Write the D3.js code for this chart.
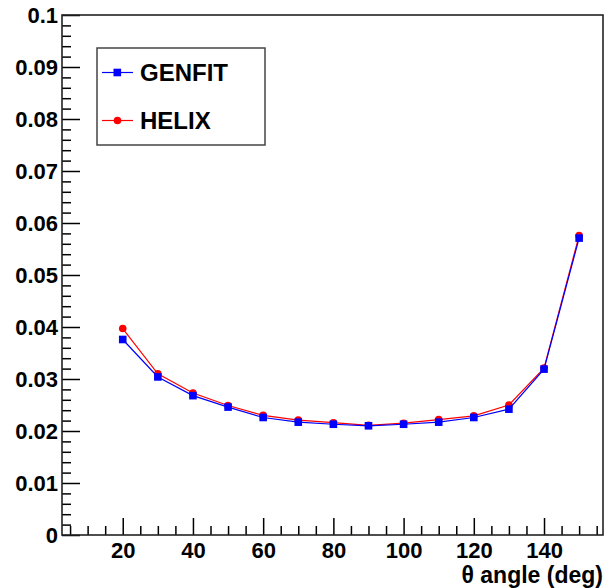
<!DOCTYPE html>
<html>
<head>
<meta charset="utf-8">
<script src="https://cdn.jsdelivr.net/npm/d3@7"></script>
<style>
  body { margin: 0; background: #fff; }
  text { font-family: "Liberation Sans", Arial, sans-serif; font-weight: bold; }
</style>
</head>
<body>
<div id="chart"></div>
<script>
// data
var angles = [20, 30, 40, 50, 60, 70, 80, 90, 100, 110, 120, 130, 140, 150];
var genfit = [0.0376, 0.0304, 0.0268, 0.0246, 0.0226, 0.0217, 0.0213, 0.0210, 0.0213, 0.0217, 0.0226, 0.0242, 0.0319, 0.0571];
var helix  = [0.0397, 0.0310, 0.0273, 0.0249, 0.0230, 0.0221, 0.0216, 0.0211, 0.0215, 0.0222, 0.0229, 0.0250, 0.0321, 0.0576];
var xTicks = [20, 40, 60, 80, 100, 120, 140];
var yTicks = [0, 0.01, 0.02, 0.03, 0.04, 0.05, 0.06, 0.07, 0.08, 0.09, 0.1];

var W = 613, H = 588;
var margin = {top: 15, right: 10, bottom: 53, left: 62},
    width = W - margin.left - margin.right,
    height = H - margin.top - margin.bottom;

var x = d3.scaleLinear().domain([2.7, 156.8]).range([0, width]);
var y = d3.scaleLinear().domain([0, 0.1]).range([height, 0]);

var svg = d3.select("#chart").append("svg")
    .attr("width", W)
    .attr("height", H)
  .append("g")
    .attr("transform", "translate(" + margin.left + "," + margin.top + ")");

// minor ticks (no labels)
var xMinor = d3.range(5, 157, 5).filter(function(v) { return v % 20 != 0; });
var yMinor = d3.range(0, 0.1001, 0.002).filter(function(v) { return Math.abs(v * 100 - Math.round(v * 100)) > 1e-6; });

svg.append("g")
    .attr("class", "axis")
    .attr("transform", "translate(0," + height + ")")
    .call(d3.axisBottom(x).tickValues(xMinor).tickSizeInner(-9).tickSizeOuter(0).tickFormat(""));
svg.append("g")
    .attr("class", "axis")
    .call(d3.axisLeft(y).tickValues(yMinor).tickSizeInner(-9).tickSizeOuter(0).tickFormat(""));

// major ticks
svg.append("g")
    .attr("class", "axis major")
    .attr("transform", "translate(0," + height + ")")
    .call(d3.axisBottom(x).tickValues(xTicks).tickSizeInner(-17).tickSizeOuter(0).tickPadding(7).tickFormat(d3.format("d")));
svg.append("g")
    .attr("class", "axis major")
    .call(d3.axisLeft(y).tickValues(yTicks).tickSizeInner(-18).tickSizeOuter(0).tickPadding(4)
      .tickFormat(function(d) { return d === 0 ? "0" : String(+d.toFixed(2)); }));

svg.selectAll(".axis path").remove();
svg.selectAll(".axis line").attr("stroke", "#000").attr("stroke-width", 1.5);
svg.selectAll(".axis text")
    .attr("fill", "#000")
    .style("font-size", "22px");

// frame
svg.append("rect")
    .attr("width", width)
    .attr("height", height)
    .attr("fill", "none")
    .attr("stroke", "#222")
    .attr("stroke-width", 1.6);

// axis title
svg.append("text")
    .attr("x", width)
    .attr("y", height + 48)
    .attr("text-anchor", "end")
    .style("font-size", "23px")
    .text("\u03b8 angle (deg)");

var line = d3.line()
    .x(function(d) { return x(d[0]); })
    .y(function(d) { return y(d[1]); });

function drawSeries(vals, color, shape) {
  var pts = angles.map(function(a, i) { return [a, vals[i]]; });
  svg.append("path")
      .datum(pts)
      .attr("d", line)
      .attr("fill", "none")
      .attr("stroke", color)
      .attr("stroke-width", 1.2);
  if (shape == "circle") {
    svg.selectAll(null).data(pts).enter().append("circle")
        .attr("cx", function(d) { return x(d[0]); })
        .attr("cy", function(d) { return y(d[1]); })
        .attr("r", 3.8)
        .attr("fill", color);
  } else {
    svg.selectAll(null).data(pts).enter().append("rect")
        .attr("x", function(d) { return x(d[0]) - 3.8; })
        .attr("y", function(d) { return y(d[1]) - 3.8; })
        .attr("width", 7.6)
        .attr("height", 7.6)
        .attr("fill", color);
  }
}

drawSeries(helix, "#ff0000", "circle");
drawSeries(genfit, "#0000ff", "square");

// legend
var leg = svg.append("g").attr("transform", "translate(" + (97 - margin.left) + "," + (48 - margin.top) + ")");
leg.append("rect")
    .attr("width", 168)
    .attr("height", 97)
    .attr("fill", "#fff")
    .attr("stroke", "#444")
    .attr("stroke-width", 1.5);

var legItems = [
  {name: "GENFIT", color: "#0000ff", shape: "square", yy: 24.5},
  {name: "HELIX", color: "#ff0000", shape: "circle", yy: 72.5}
];
legItems.forEach(function(it) {
  var g = leg.append("g").attr("transform", "translate(0," + it.yy + ")");
  g.append("line").attr("x1", 5).attr("x2", 36).attr("stroke", it.color).attr("stroke-width", 1.2);
  if (it.shape == "square") {
    g.append("rect").attr("x", 16.5).attr("y", -3.8).attr("width", 7.6).attr("height", 7.6).attr("fill", it.color);
  } else {
    g.append("circle").attr("cx", 20.5).attr("r", 3.8).attr("fill", it.color);
  }
  g.append("text")
      .attr("x", 43)
      .attr("y", 8.5)
      .style("font-size", "24px")
      .text(it.name);
});
</script>
</body>
</html>
